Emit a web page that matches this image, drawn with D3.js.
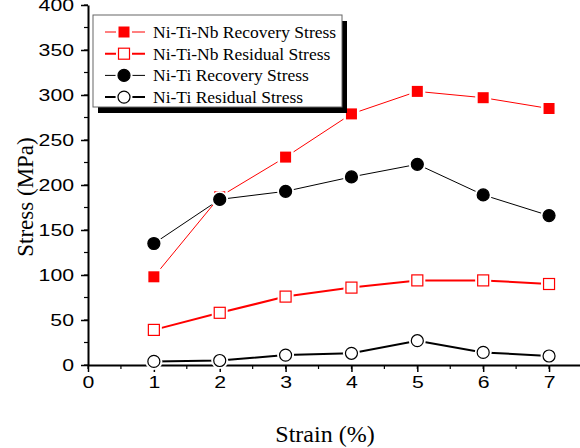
<!DOCTYPE html>
<head>
  <meta charset="utf-8">
  <script src="https://d3js.org/d3.v7.min.js"></script>
  <style>
    body { margin:0; background:#fff; }
    .tick text { font-family: "Liberation Sans", Arial, sans-serif; font-size:17px; fill:#000; }
    .serif { font-family: "Liberation Serif", "Times New Roman", serif; fill:#000; }
  </style>
</head>
<body>
<div id="chart"></div>
<script>
  var width = 580, height = 448;
  var margin = {top: 5, right: 0, bottom: 83, left: 88};

  // data
  var strain = [1, 2, 3, 4, 5, 6, 7];
  var nbRecovery = [98, 187, 231, 279, 304, 297, 285];
  var nbResidual = [39, 58, 76, 86, 94, 94, 90];
  var tiRecovery = [135, 184, 193, 209, 223, 189, 166];
  var tiResidual = [4, 5, 11, 13, 27, 14, 10];
  var xTicks = [0, 1, 2, 3, 4, 5, 6, 7];
  var yTicks = [0, 50, 100, 150, 200, 250, 300, 350, 400];

  var series = [
    {name: "Ni-Ti-Nb Recovery Stress", values: nbRecovery, color: "#ff0000", width: 1, shape: "square", fill: true},
    {name: "Ni-Ti-Nb Residual Stress", values: nbResidual, color: "#ff0000", width: 2, shape: "square", fill: false},
    {name: "Ni-Ti Recovery Stress", values: tiRecovery, color: "#000", width: 1, shape: "circle", fill: true},
    {name: "Ni-Ti Residual Stress", values: tiResidual, color: "#000", width: 2, shape: "circle", fill: false}
  ];

  var x = d3.scaleLinear().domain([0, 7.47]).range([margin.left, width - margin.right]);
  var y = d3.scaleLinear().domain([0, 400]).range([height - margin.bottom, margin.top]);

  var svg = d3.select("#chart").append("svg")
    .attr("width", width).attr("height", height);

  // minor ticks
  var xMinor = d3.range(0, 7.5, 0.5);
  var yMinor = d3.range(0, 401, 25);
  svg.append("g").selectAll("line").data(xMinor).enter().append("line")
    .attr("x1", d => x(d)).attr("x2", d => x(d))
    .attr("y1", y(0)).attr("y2", y(0) + 4)
    .attr("stroke", "#000").attr("stroke-width", 1.2);
  svg.append("g").selectAll("line").data(yMinor).enter().append("line")
    .attr("x1", x(0) - 4).attr("x2", x(0))
    .attr("y1", d => y(d)).attr("y2", d => y(d))
    .attr("stroke", "#000").attr("stroke-width", 1.2);

  var xAxis = d3.axisBottom(x).tickValues(xTicks).tickSize(7).tickPadding(4).tickSizeOuter(0);
  var yAxis = d3.axisLeft(y).tickValues(yTicks).tickSize(7).tickPadding(7).tickSizeOuter(0);

  var gx = svg.append("g").attr("transform", "translate(0," + y(0) + ")").call(xAxis);
  var gy = svg.append("g").attr("transform", "translate(" + x(0) + ",0)").call(yAxis);
  [gx, gy].forEach(function(g){
    g.select(".domain").attr("stroke-width", 2);
    g.selectAll(".tick line").attr("stroke-width", 1.5);
  });
  gx.selectAll(".tick text").attr("transform", "scale(1.25,1)").attr("x", 0);
  gy.selectAll(".tick text").attr("transform", "scale(1.25,1)").attr("x", -14 / 1.25);

  // lines and markers
  var line = d3.line().x((d, i) => x(strain[i])).y(d => y(d));

  function marker(g, s, cx, cy) {
    // white halo leaves a gap between line and symbol
    if (s.shape === "square") {
      g.append("rect").attr("x", cx - 8).attr("y", cy - 8).attr("width", 16).attr("height", 16).attr("fill", "#fff");
      g.append("rect").attr("x", cx - 5.5).attr("y", cy - 5.5).attr("width", 11).attr("height", 11)
        .attr("fill", s.fill ? s.color : "#fff").attr("stroke", s.color).attr("stroke-width", s.fill ? 0 : 1.2);
    } else {
      g.append("circle").attr("cx", cx).attr("cy", cy).attr("r", 8.5).attr("fill", "#fff");
      g.append("circle").attr("cx", cx).attr("cy", cy).attr("r", 6)
        .attr("fill", s.fill ? s.color : "#fff").attr("stroke", s.color).attr("stroke-width", 1.2);
    }
  }

  series.forEach(function(s){
    svg.append("path").attr("d", line(s.values))
      .attr("fill", "none").attr("stroke", s.color).attr("stroke-width", s.width);
  });
  series.forEach(function(s){
    var g = svg.append("g");
    s.values.forEach(function(v, i){ marker(g, s, x(strain[i]), y(v)); });
  });

  // legend
  var lg = svg.append("g");
  var lx = 93, ly = 15, lw = 249, lh = 92;
  lg.append("rect").attr("x", lx + 5).attr("y", ly + 6).attr("width", lw).attr("height", lh).attr("fill", "#000");
  lg.append("rect").attr("x", lx).attr("y", ly).attr("width", lw).attr("height", lh)
    .attr("fill", "#fff").attr("stroke", "#666").attr("stroke-width", 1);
  series.forEach(function(s, i){
    var cy = 32 + i * 21.7;
    lg.append("line").attr("x1", 105).attr("x2", 145).attr("y1", cy).attr("y2", cy)
      .attr("stroke", s.color).attr("stroke-width", s.width);
    marker(lg, s, 124, cy);
    lg.append("text").attr("class", "serif").attr("x", 153).attr("y", cy + 6)
      .style("font-size", "17.5px").text(s.name);
  });

  // axis titles
  svg.append("text").attr("class", "serif").attr("x", 325).attr("y", 442).attr("text-anchor", "middle")
    .style("font-size", "24px").text("Strain (%)");
  svg.append("text").attr("class", "serif").attr("transform", "translate(33,197) rotate(-90)")
    .attr("text-anchor", "middle").style("font-size", "23px").text("Stress (MPa)");
</script>
</body>
